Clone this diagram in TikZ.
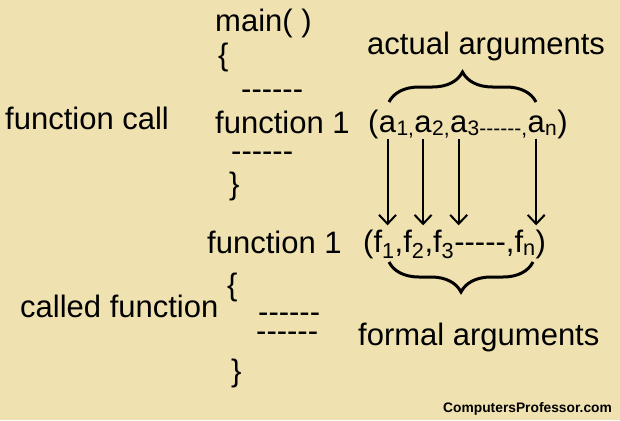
\documentclass[tikz,border=0pt]{standalone}
\usepackage{fontspec}
\setmainfont{Liberation Sans}[Ligatures=TeXOff]
\usetikzlibrary{arrows.meta,positioning,decorations.pathreplacing}
\definecolor{paper}{RGB}{239,226,176}

\begin{document}
\begin{tikzpicture}[
    x=1pt, y=1pt,
    >={Straight Barb[length=9pt,width=17pt]},
    txt/.style={inner sep=0pt, anchor=base west, font=\fontsize{31}{37}\selectfont},
    sub/.style={inner sep=0pt, anchor=base west, font=\fontsize{21}{25}\selectfont},
    curly/.style={decorate, decoration={brace, amplitude=30pt}, line width=3pt},
    flow/.style={->, line width=2pt},
]
\fill[paper] (0,0) rectangle (620,-420);
\useasboundingbox (0,0) rectangle (620,-420);

% calling side
\node[txt] (main) at (215,-32) {main( )};
\node[txt] (open1) at (218,-66) {\{};
\node[txt] (dashA) at (241,-99) {------};
\node[txt] (call) at (215,-133) {function 1};
\node[txt] (dashB) at (231,-161) {------};
\node[txt] (close1) at (229,-194) {\}};
\node[txt] (fcall) at (5,-129) {function call};

% actual arguments, one piece per letter
\node[txt] (lpa) at (368,-132) {(};
\node[txt] (a1) at (lpa.base east) {a};
\node[sub] (s1) at (a1.base east) {\raisebox{-3pt}{1,}};
\node[txt] (a2) at (s1.base east) {a};
\node[sub] (s2) at (a2.base east) {\raisebox{-3pt}{2,}};
\node[txt] (a3) at (s2.base east) {a};
\node[sub] (s3) at (a3.base east) {\raisebox{-3pt}{3------,}};
\node[txt] (an) at (s3.base east) {a};
\node[sub] (sn) at (an.base east) {\raisebox{-3pt}{n}};
\node[txt] (rpa) at (sn.base east) {)};
\node[txt] (actual) at (367,-55) {actual arguments};
\draw[curly] (389,-102) -- (536,-102);

% called side
\node[txt] (def) at (207,-253) {function 1};
\node[txt] (fargs) at (363,-252) {(f\textsubscript{1},f\textsubscript{2},f\textsubscript{3}-----,f\textsubscript{n})};
\draw[curly] (533,-262) -- (389,-262);
\node[txt] (formal) at (358,-345) {formal arguments};
\node[txt] (called) at (20,-317) {called function};
\node[txt] (open2) at (227,-295) {\{};
\node[txt] (dashC) at (258,-322) {------};
\node[txt] (dashD) at (256,-341) {------};
\node[txt] (close2) at (231,-381) {\}};

\foreach \a in {a1,a2,a3,an}
    \draw[flow] ([yshift=-6pt]\a.south) -- ([yshift=4pt]\a.south |- fargs.north);

\node[anchor=base west, inner sep=0pt, font=\bfseries\fontsize{13.8}{16}\selectfont] (site) at (443,-412) {ComputersProfessor.com};
\end{tikzpicture}
\end{document}
